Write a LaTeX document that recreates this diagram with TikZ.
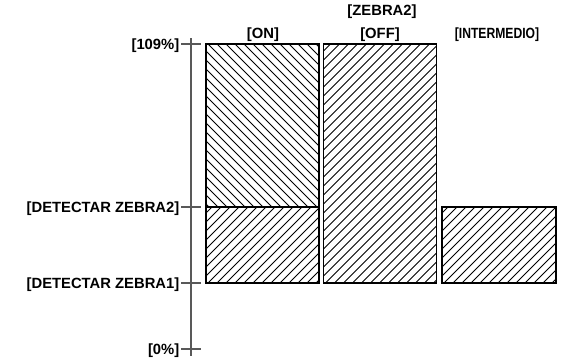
\documentclass[tikz,border=0pt]{standalone}
\usepackage{fontspec}
\setmainfont{Liberation Sans}
\newcommand\hatchNE[4]{%
  \begin{scope}
    \clip (#1,#2) rectangle (#3,#4);
    \foreach \k in {0,9,...,500} \draw[hatchline] ({#1-250+\k},#4) -- ++(250,-250);
  \end{scope}}
\newcommand\hatchNW[4]{%
  \begin{scope}
    \clip (#1,#2) rectangle (#3,#4);
    \foreach \k in {0,9,...,500} \draw[hatchline] ({#1-250+\k},#2) -- ++(250,250);
  \end{scope}}
\begin{document}
\begin{tikzpicture}[x=1pt,y=-1pt,
  lbl/.style={font=\bfseries\fontsize{14.8}{16}\selectfont, inner sep=0pt, yshift=-1.5pt},
  box/.style={draw=black, line width=1.9pt},
  hatchline/.style={line width=0.85pt, black},
  axisline/.style={draw=black!65, line width=1.3pt},
  tickline/.style={draw=black!65, line width=1.3pt}]
\useasboundingbox (0,0) rectangle (573,362);

% axis
\coordinate (atop) at (191,38);
\coordinate (abot) at (191,356);
\draw[axisline] (atop) -- (abot);

% ticks and labels
\foreach \nm/\yy/\txt in {t109/44/{[109\%]}, tz2/207/{[DETECTAR ZEBRA2]}, tz1/283/{[DETECTAR ZEBRA1]}, t0/349/{[0\%]}}{
  \node[lbl, anchor=east] (\nm) at (179.5,\yy) {\txt};
  \coordinate (\nm-a) at (181,\yy);
  \coordinate (\nm-b) at (201,\yy);
  \draw[tickline] (\nm-a) -- (\nm-b);
}

% ON box
\hatchNW{206}{44}{319}{207}
\hatchNE{206}{207}{319}{283}
\draw[box] (206,44) rectangle (319,283);
\draw[box] (206,207) -- (319,207);

% OFF box
\hatchNE{323.5}{44}{436.5}{283}
\draw[box] (323.5,44) rectangle (436.5,283);

% INTERMEDIO box
\hatchNE{442}{207}{556}{283}
\draw[box] (442,207) rectangle (556,283);

% top labels
\node[lbl] (zebra2) at (382,10) {[ZEBRA2]};
\node[lbl] (on) at (263,33) {[ON]};
\node[lbl] (off) at (380,33) {[OFF]};
\node[lbl] (inter) at (497,33) {\scalebox{0.82}[1]{[INTERMEDIO]}};
\end{tikzpicture}
\end{document}
